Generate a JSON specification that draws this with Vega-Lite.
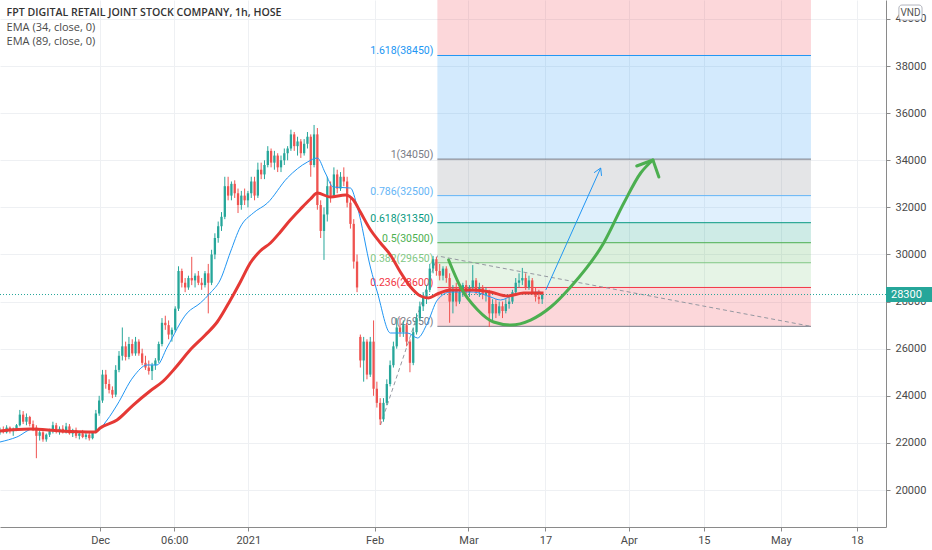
{
  "$schema": "https://vega.github.io/schema/vega-lite/v6.json",
  "width": 886,
  "height": 527,
  "autosize": {"type": "none"},
  "padding": {"left": 0, "top": 0, "right": 46, "bottom": 23},
  "background": "white",
  "config": {
    "view": {"stroke": null},
    "font": "Roboto",
    "text": {"font": "Roboto"}
  },
  "datasets": {
    "candles": [
      {"i":0,"o":22450,"h":22650,"l":22350,"c":22550},{"i":1,"o":22550,"h":22700,"l":22400,"c":22450},
      {"i":2,"o":22450,"h":22750,"l":22400,"c":22650},{"i":3,"o":22650,"h":22700,"l":22400,"c":22500},
      {"i":4,"o":22500,"h":22650,"l":22300,"c":22600},{"i":5,"o":22600,"h":22800,"l":22500,"c":22750},
      {"i":6,"o":22750,"h":23400,"l":22700,"c":23200},{"i":7,"o":23200,"h":23350,"l":22800,"c":22900},
      {"i":8,"o":22900,"h":23250,"l":22750,"c":23100},{"i":9,"o":23100,"h":23150,"l":22700,"c":22800},
      {"i":10,"o":22800,"h":22950,"l":22500,"c":22600},{"i":11,"o":22650,"h":22750,"l":21350,"c":22300},
      {"i":12,"o":22300,"h":22550,"l":22100,"c":22450},{"i":13,"o":22450,"h":22500,"l":22050,"c":22150},
      {"i":14,"o":22150,"h":22400,"l":22050,"c":22350},{"i":15,"o":22350,"h":22600,"l":22250,"c":22500},
      {"i":16,"o":22500,"h":22900,"l":22400,"c":22750},{"i":17,"o":22750,"h":22850,"l":22400,"c":22500},
      {"i":18,"o":22500,"h":22700,"l":22350,"c":22600},{"i":19,"o":22600,"h":22750,"l":22400,"c":22450},
      {"i":20,"o":22450,"h":22850,"l":22400,"c":22700},{"i":21,"o":22700,"h":22800,"l":22350,"c":22400},
      {"i":22,"o":22400,"h":22600,"l":22250,"c":22550},{"i":23,"o":22550,"h":22650,"l":22200,"c":22300},
      {"i":24,"o":22300,"h":22500,"l":22150,"c":22400},{"i":25,"o":22400,"h":22550,"l":22200,"c":22250},
      {"i":26,"o":22250,"h":22450,"l":22150,"c":22350},{"i":27,"o":22350,"h":22450,"l":22100,"c":22200},
      {"i":28,"o":22200,"h":22500,"l":22150,"c":22450},{"i":29,"o":22450,"h":23400,"l":22400,"c":23250},
      {"i":30,"o":23250,"h":24000,"l":23150,"c":23800},{"i":31,"o":23800,"h":25100,"l":23700,"c":24900},
      {"i":32,"o":24900,"h":25100,"l":24300,"c":24500},{"i":33,"o":24500,"h":24700,"l":24100,"c":24250},
      {"i":34,"o":24250,"h":24400,"l":23900,"c":24050},{"i":35,"o":24050,"h":25300,"l":23950,"c":25100},
      {"i":36,"o":25100,"h":25900,"l":25000,"c":25700},{"i":37,"o":25700,"h":26900,"l":25500,"c":26100},
      {"i":38,"o":26100,"h":26300,"l":25500,"c":25650},{"i":39,"o":25650,"h":26500,"l":25550,"c":26200},
      {"i":40,"o":26200,"h":26400,"l":25700,"c":25800},{"i":41,"o":25800,"h":26500,"l":25700,"c":26300},
      {"i":42,"o":26300,"h":26400,"l":25700,"c":25800},{"i":43,"o":25800,"h":26000,"l":25300,"c":25400},
      {"i":44,"o":25400,"h":25700,"l":25100,"c":25200},{"i":45,"o":25200,"h":25500,"l":24900,"c":25050},
      {"i":46,"o":25050,"h":25400,"l":24670,"c":25300},{"i":47,"o":25300,"h":25600,"l":25100,"c":25500},
      {"i":48,"o":25500,"h":26300,"l":25400,"c":26200},{"i":49,"o":26200,"h":27300,"l":26100,"c":27100},
      {"i":50,"o":27100,"h":27400,"l":26800,"c":27000},{"i":51,"o":27000,"h":27200,"l":26400,"c":26600},
      {"i":52,"o":26600,"h":26900,"l":26300,"c":26800},{"i":53,"o":26800,"h":27800,"l":26700,"c":27700},
      {"i":54,"o":27700,"h":29500,"l":27600,"c":29300},{"i":55,"o":29300,"h":29400,"l":28600,"c":28800},
      {"i":56,"o":28800,"h":29000,"l":28400,"c":28600},{"i":57,"o":28600,"h":29100,"l":28500,"c":29000},
      {"i":58,"o":29000,"h":29900,"l":28700,"c":28900},{"i":59,"o":28900,"h":29200,"l":28600,"c":29100},
      {"i":60,"o":29100,"h":29300,"l":28700,"c":28800},{"i":61,"o":28800,"h":29000,"l":28500,"c":28700},
      {"i":62,"o":28700,"h":29300,"l":28600,"c":29200},{"i":63,"o":29200,"h":29600,"l":27500,"c":28800},
      {"i":64,"o":28800,"h":30200,"l":28700,"c":30000},{"i":65,"o":30000,"h":30900,"l":29800,"c":30700},
      {"i":66,"o":30700,"h":31400,"l":30500,"c":31200},{"i":67,"o":31200,"h":31800,"l":31000,"c":31600},
      {"i":68,"o":31600,"h":33300,"l":31500,"c":32900},{"i":69,"o":32900,"h":33300,"l":32300,"c":32500},
      {"i":70,"o":32500,"h":33100,"l":32300,"c":33000},{"i":71,"o":33000,"h":33150,"l":32400,"c":32600},
      {"i":72,"o":32600,"h":32800,"l":31760,"c":32100},{"i":73,"o":32100,"h":32700,"l":31900,"c":32500},
      {"i":74,"o":32500,"h":32800,"l":32100,"c":32300},{"i":75,"o":32300,"h":32700,"l":32000,"c":32600},
      {"i":76,"o":32600,"h":33300,"l":32400,"c":33100},{"i":77,"o":33100,"h":33300,"l":32300,"c":32500},
      {"i":78,"o":32500,"h":33900,"l":32400,"c":33600},{"i":79,"o":33600,"h":33900,"l":33200,"c":33400},
      {"i":80,"o":33400,"h":34000,"l":33200,"c":33800},{"i":81,"o":33800,"h":34600,"l":33700,"c":34400},
      {"i":82,"o":34400,"h":34500,"l":33700,"c":33900},{"i":83,"o":33900,"h":34400,"l":33600,"c":34200},
      {"i":84,"o":34200,"h":34300,"l":33500,"c":33700},{"i":85,"o":33700,"h":34200,"l":33500,"c":34000},
      {"i":86,"o":34000,"h":34500,"l":33800,"c":34300},{"i":87,"o":34300,"h":34600,"l":34000,"c":34500},
      {"i":88,"o":34500,"h":35300,"l":34400,"c":35100},{"i":89,"o":35100,"h":35200,"l":34400,"c":34600},
      {"i":90,"o":34600,"h":35000,"l":34200,"c":34800},{"i":91,"o":34800,"h":34900,"l":34100,"c":34300},
      {"i":92,"o":34300,"h":34900,"l":34200,"c":34700},{"i":93,"o":34700,"h":35200,"l":34500,"c":35000},
      {"i":94,"o":35000,"h":35100,"l":33300,"c":33800},{"i":95,"o":33800,"h":35500,"l":33700,"c":35100},
      {"i":96,"o":35100,"h":35370,"l":31900,"c":32100},{"i":97,"o":32100,"h":32300,"l":30700,"c":31000},
      {"i":98,"o":31000,"h":32000,"l":29770,"c":31700},{"i":99,"o":31700,"h":33300,"l":31400,"c":32900},
      {"i":100,"o":32900,"h":33100,"l":32200,"c":32500},{"i":101,"o":32500,"h":33700,"l":32400,"c":33400},
      {"i":102,"o":33400,"h":33600,"l":32600,"c":32800},{"i":103,"o":32800,"h":33500,"l":32700,"c":33300},
      {"i":104,"o":33300,"h":33700,"l":32900,"c":33100},{"i":105,"o":33100,"h":33300,"l":32000,"c":32200},
      {"i":106,"o":32200,"h":32400,"l":31100,"c":31300},{"i":107,"o":31300,"h":31500,"l":29400,"c":29700},
      {"i":108,"o":29700,"h":30000,"l":28400,"c":28600},{"i":109,"o":26500,"h":26600,"l":25200,"c":25500},
      {"i":110,"o":25500,"h":26500,"l":24600,"c":26300},{"i":111,"o":26300,"h":26400,"l":24700,"c":24900},
      {"i":112,"o":24900,"h":26500,"l":24800,"c":26300},{"i":113,"o":26300,"h":27200,"l":24000,"c":24300},
      {"i":114,"o":24300,"h":24600,"l":23500,"c":23700},{"i":115,"o":23700,"h":23900,"l":22760,"c":23000},
      {"i":116,"o":23000,"h":23900,"l":22900,"c":23700},{"i":117,"o":23700,"h":24700,"l":23600,"c":24500},
      {"i":118,"o":24500,"h":25500,"l":24400,"c":25300},{"i":119,"o":25300,"h":26300,"l":25200,"c":26100},
      {"i":120,"o":26100,"h":27300,"l":26000,"c":26900},{"i":121,"o":26900,"h":27300,"l":26500,"c":26700},
      {"i":122,"o":26700,"h":27200,"l":26500,"c":27000},{"i":123,"o":27000,"h":27100,"l":26100,"c":26300},
      {"i":124,"o":26300,"h":26400,"l":25000,"c":25400},{"i":125,"o":25400,"h":26900,"l":25300,"c":26700},
      {"i":126,"o":26700,"h":27500,"l":26600,"c":27300},{"i":127,"o":27300,"h":28000,"l":27200,"c":27800},
      {"i":128,"o":27800,"h":28400,"l":27600,"c":28200},{"i":129,"o":28200,"h":28700,"l":27900,"c":28500},
      {"i":130,"o":28500,"h":29600,"l":28400,"c":29400},{"i":131,"o":29400,"h":29940,"l":29200,"c":29800},
      {"i":132,"o":29800,"h":29900,"l":29100,"c":29300},{"i":133,"o":29300,"h":29600,"l":28900,"c":29100},
      {"i":134,"o":29100,"h":29500,"l":28900,"c":29400},{"i":135,"o":29400,"h":29500,"l":28800,"c":29000},
      {"i":136,"o":29000,"h":29200,"l":27100,"c":28000},{"i":137,"o":28000,"h":28700,"l":27500,"c":28500},
      {"i":138,"o":28500,"h":28800,"l":27800,"c":28000},{"i":139,"o":28000,"h":28600,"l":27900,"c":28400},
      {"i":140,"o":28400,"h":28800,"l":28200,"c":28700},{"i":141,"o":28700,"h":28900,"l":28300,"c":28400},
      {"i":142,"o":28400,"h":28700,"l":28200,"c":28600},{"i":143,"o":28600,"h":29550,"l":28500,"c":28900},
      {"i":144,"o":28900,"h":29000,"l":28300,"c":28500},{"i":145,"o":28500,"h":28800,"l":28200,"c":28600},
      {"i":146,"o":28600,"h":28700,"l":28100,"c":28300},{"i":147,"o":28300,"h":28600,"l":28000,"c":28400},
      {"i":148,"o":28400,"h":28500,"l":26920,"c":27500},{"i":149,"o":27500,"h":28100,"l":27200,"c":27900},
      {"i":150,"o":27900,"h":28100,"l":27300,"c":27500},{"i":151,"o":27500,"h":28000,"l":27400,"c":27800},
      {"i":152,"o":27800,"h":28000,"l":27300,"c":27600},{"i":153,"o":27600,"h":28100,"l":27500,"c":27900},
      {"i":154,"o":27900,"h":28200,"l":27700,"c":28000},{"i":155,"o":28000,"h":28500,"l":27900,"c":28400},
      {"i":156,"o":28400,"h":29000,"l":28300,"c":28800},{"i":157,"o":28800,"h":29200,"l":28600,"c":28900},
      {"i":158,"o":28900,"h":29430,"l":28700,"c":29000},{"i":159,"o":29000,"h":29200,"l":28500,"c":28600},
      {"i":160,"o":28600,"h":29100,"l":28500,"c":28900},{"i":161,"o":28900,"h":29000,"l":28300,"c":28400},
      {"i":162,"o":28400,"h":28600,"l":28000,"c":28200},{"i":163,"o":28200,"h":28500,"l":27900,"c":28100},
      {"i":164,"o":28100,"h":28400,"l":27900,"c":28300}
    ],
    "ema89": [
      {"i":0,"p":22505},{"i":9.1,"p":22590},{"i":18.2,"p":22505},{"i":28.8,"p":22463},{"i":30.3,"p":22633},
      {"i":35.4,"p":22972},{"i":40.3,"p":23609},{"i":45.4,"p":24204},{"i":49.4,"p":24628},{"i":53,"p":25180},
      {"i":57.5,"p":25944},{"i":62.1,"p":26581},{"i":65.7,"p":27133},{"i":69.7,"p":28067},{"i":72.7,"p":28832},
      {"i":75.7,"p":29638},{"i":78.7,"p":30148},{"i":81.8,"p":30488},{"i":84.8,"p":30955},{"i":87.8,"p":31464},
      {"i":90.9,"p":31931},{"i":93.9,"p":32356},{"i":96,"p":32611},{"i":99.9,"p":32441},{"i":104.5,"p":32526},
      {"i":106.9,"p":32313},{"i":109,"p":31804},{"i":112.1,"p":31040},{"i":115.1,"p":30488},{"i":118.1,"p":29978},
      {"i":121.1,"p":29256},{"i":124.2,"p":28619},{"i":127.2,"p":28237},{"i":129.6,"p":28152},{"i":132.3,"p":28322},
      {"i":136.3,"p":28492},{"i":143.2,"p":28492},{"i":148.4,"p":28407},{"i":153.5,"p":28237},{"i":158.4,"p":28365},
      {"i":164.4,"p":28365}
    ],
    "ema34": [
      {"i":0,"p":22038},{"i":5.1,"p":22250},{"i":10,"p":22590},{"i":15.1,"p":22548},{"i":25.1,"p":22463},
      {"i":28.8,"p":22463},{"i":32.4,"p":22972},{"i":35.4,"p":23609},{"i":40.3,"p":24798},{"i":44.5,"p":25308},
      {"i":47.5,"p":25308},{"i":50.6,"p":26072},{"i":56.6,"p":27515},{"i":60.6,"p":27940},{"i":63.6,"p":28365},
      {"i":66.6,"p":28917},{"i":69.7,"p":30105},{"i":72.7,"p":31167},{"i":76.6,"p":31761},{"i":80.9,"p":32186},
      {"i":86.9,"p":33248},{"i":93,"p":33927},{"i":96,"p":34097},{"i":98.4,"p":33460},{"i":100.8,"p":32865},
      {"i":106,"p":32823},{"i":108.1,"p":32016},{"i":112.1,"p":29426},{"i":114.2,"p":28365},{"i":118.1,"p":26666},
      {"i":123.3,"p":26666},{"i":126.3,"p":26454},{"i":129.3,"p":27091},{"i":132.3,"p":28067},{"i":136.3,"p":28407},
      {"i":143.2,"p":28407},{"i":148.4,"p":28195},{"i":151.4,"p":28067},{"i":155.4,"p":28280},{"i":163.5,"p":28407}
    ],
    "bands": [
      {"b":"top","i":132.3,"i2":245.3,"p":38450,"p2":40806},{"b":"1.618","i":132.3,"i2":245.3,"p":34050,"p2":38450},
      {"b":"1","i":132.3,"i2":245.3,"p":32500,"p2":34050},{"b":"0.786","i":132.3,"i2":245.3,"p":31350,"p2":32500},
      {"b":"0.618","i":132.3,"i2":245.3,"p":30500,"p2":31350},{"b":"0.5","i":132.3,"i2":245.3,"p":29650,"p2":30500},
      {"b":"0.382","i":132.3,"i2":245.3,"p":28600,"p2":29650},{"b":"0.236","i":132.3,"i2":245.3,"p":26950,"p2":28600}
    ],
    "levels": [
      {"lv":"0","i":132.3,"i2":245.3,"p":26950,"txt":"0(26950)"},
      {"lv":"0.236","i":132.3,"i2":245.3,"p":28600,"txt":"0.236(28600)"},
      {"lv":"0.382","i":132.3,"i2":245.3,"p":29650,"txt":"0.382(29650)"},
      {"lv":"0.5","i":132.3,"i2":245.3,"p":30500,"txt":"0.5(30500)"},
      {"lv":"0.618","i":132.3,"i2":245.3,"p":31350,"txt":"0.618(31350)"},
      {"lv":"0.786","i":132.3,"i2":245.3,"p":32500,"txt":"0.786(32500)"},
      {"lv":"1","i":132.3,"i2":245.3,"p":34050,"txt":"1(34050)"},
      {"lv":"1.618","i":132.3,"i2":245.3,"p":38450,"txt":"1.618(38450)"}
    ],
    "trend": [{"i":115.1,"p":22760},{"i":132.3,"p":29940},{"i":245.3,"p":26950}],
    "curve": [
      {"i":135.7,"p":29766},{"i":139.3,"p":28620},{"i":144.5,"p":27643},{"i":149.3,"p":27133},{"i":154.5,"p":27006},
      {"i":160.5,"p":27218},{"i":166.6,"p":27770},{"i":172.6,"p":28620},{"i":182.6,"p":30488},{"i":188.7,"p":32186},
      {"i":193.8,"p":33460},{"i":197.5,"p":34012}
    ],
    "curveHead": [{"k":0,"i":192.6,"p":33757},{"k":1,"i":197.5,"p":34012},{"k":2,"i":199.3,"p":33290}],
    "arrow": [{"i":165.1,"p":28492},{"i":181.7,"p":33672}],
    "arrowHead": [{"k":0,"i":179.7,"p":33473},{"k":1,"i":181.7,"p":33672},{"k":2,"i":181.95,"p":33337}]
  },
  "encoding": {
    "x": {"field": "i", "type": "quantitative", "title": null,
      "scale": {"domain": [0, 268], "nice": false, "zero": false},
      "axis": {"orient": "bottom", "title": null,
        "values": [30.3, 52.7, 75.1, 113.3, 141.7, 165, 190.2, 212.9, 236.2, 259.2],
        "labelExpr": "datum.value < 40 ? 'Dec' : datum.value < 60 ? '06:00' : datum.value < 90 ? '2021' : datum.value < 120 ? 'Feb' : datum.value < 150 ? 'Mar' : datum.value < 175 ? '17' : datum.value < 200 ? 'Apr' : datum.value < 220 ? '15' : datum.value < 245 ? 'May' : '18'",
        "grid": true, "gridColor": "#eef0f3", "domainColor": "#8a8a8a", "tickColor": "#8a8a8a", "tickSize": 4,
        "labelColor": "#4a4a4a", "labelFontSize": 11, "labelPadding": 3, "labelFlush": false, "labelOverlap": false}},
    "y": {"field": "p", "type": "quantitative", "title": null,
      "scale": {"domain": [18429, 40806], "nice": false, "zero": false},
      "axis": {"orient": "right", "title": null,
        "values": [20000, 22000, 24000, 26000, 28000, 30000, 32000, 34000, 36000, 38000, 40000],
        "format": "d", "grid": true, "gridColor": "#eef0f3", "domainColor": "#8a8a8a", "tickColor": "#8a8a8a",
        "tickSize": 4, "labelColor": "#4a4a4a", "labelFontSize": 11, "labelPadding": 5}}
  },
  "layer": [
    {
      "data": {"name": "bands"},
      "mark": {"type": "rect", "fillOpacity": 0.2},
      "encoding": {
        "x2": {"field": "i2"},
        "y2": {"field": "p2"},
        "fill": {"field": "b", "type": "nominal", "legend": null,
          "scale": {"domain": ["top", "1.618", "1", "0.786", "0.618", "0.5", "0.382", "0.236"],
            "range": ["#f23645", "#2196f3", "#787b86", "#64b5f6", "#089981", "#4caf50", "#81c784", "#f23645"]}}
      }
    },
    {
      "data": {"name": "levels"},
      "mark": {"type": "rule", "strokeWidth": 1},
      "encoding": {
        "x2": {"field": "i2"},
        "color": {"field": "lv", "type": "nominal", "legend": null,
          "scale": {"domain": ["0", "0.236", "0.382", "0.5", "0.618", "0.786", "1", "1.618"],
            "range": ["#787b86", "#f23645", "#81c784", "#4caf50", "#089981", "#64b5f6", "#787b86", "#2196f3"]}}
      }
    },
    {
      "data": {"name": "levels"},
      "mark": {"type": "text", "align": "right", "baseline": "bottom", "dx": -4, "dy": 1, "fontSize": 10.5},
      "encoding": {
        "text": {"field": "txt"},
        "color": {"field": "lv", "type": "nominal", "legend": null,
          "scale": {"domain": ["0", "0.236", "0.382", "0.5", "0.618", "0.786", "1", "1.618"],
            "range": ["#787b86", "#f23645", "#81c784", "#4caf50", "#089981", "#64b5f6", "#787b86", "#2196f3"]}}
      }
    },
    {
      "data": {"name": "trend"},
      "mark": {"type": "line", "stroke": "#9598a1", "strokeWidth": 1, "strokeDash": [4, 3]}
    },
    {
      "data": {"values": [{"i": 0, "p": 28300}, {"i": 268, "p": 28300}]},
      "mark": {"type": "line", "stroke": "#26a69a", "strokeWidth": 1, "strokeDash": [1, 2]}
    },
    {
      "data": {"name": "candles"},
      "mark": {"type": "rule", "strokeWidth": 1},
      "encoding": {
        "y": {"field": "l", "type": "quantitative", "title": null,
          "scale": {"domain": [18429, 40806], "nice": false, "zero": false},
          "axis": {"orient": "right", "title": null,
            "values": [20000, 22000, 24000, 26000, 28000, 30000, 32000, 34000, 36000, 38000, 40000],
            "format": "d", "grid": true, "gridColor": "#eef0f3", "domainColor": "#8a8a8a", "tickColor": "#8a8a8a",
            "tickSize": 4, "labelColor": "#4a4a4a", "labelFontSize": 11, "labelPadding": 5}},
        "y2": {"field": "h"},
        "color": {"condition": {"test": "datum.c >= datum.o", "value": "#26a69a"}, "value": "#ef5350"}
      }
    },
    {
      "data": {"name": "candles"},
      "mark": {"type": "rule", "strokeWidth": 2.3, "strokeCap": "butt"},
      "encoding": {
        "y": {"field": "o", "type": "quantitative", "title": null,
          "scale": {"domain": [18429, 40806], "nice": false, "zero": false},
          "axis": {"orient": "right", "title": null,
            "values": [20000, 22000, 24000, 26000, 28000, 30000, 32000, 34000, 36000, 38000, 40000],
            "format": "d", "grid": true, "gridColor": "#eef0f3", "domainColor": "#8a8a8a", "tickColor": "#8a8a8a",
            "tickSize": 4, "labelColor": "#4a4a4a", "labelFontSize": 11, "labelPadding": 5}},
        "y2": {"field": "c"},
        "color": {"condition": {"test": "datum.c >= datum.o", "value": "#26a69a"}, "value": "#ef5350"}
      }
    },
    {
      "data": {"name": "ema34"},
      "mark": {"type": "line", "stroke": "#2196f3", "strokeWidth": 1, "interpolate": "monotone"}
    },
    {
      "data": {"name": "ema89"},
      "mark": {"type": "line", "stroke": "#e53935", "strokeWidth": 3, "interpolate": "monotone"}
    },
    {
      "data": {"name": "arrow"},
      "mark": {"type": "line", "stroke": "#2196f3", "strokeWidth": 1}
    },
    {
      "data": {"name": "arrowHead"},
      "mark": {"type": "line", "stroke": "#2196f3", "strokeWidth": 1},
      "encoding": {"order": {"field": "k"}}
    },
    {
      "data": {"name": "curve"},
      "mark": {"type": "line", "stroke": "#4caf50", "strokeWidth": 3, "interpolate": "monotone", "strokeCap": "round"}
    },
    {
      "data": {"name": "curveHead"},
      "mark": {"type": "line", "stroke": "#4caf50", "strokeWidth": 3, "strokeCap": "round", "strokeJoin": "round"},
      "encoding": {"order": {"field": "k"}}
    },
    {
      "data": {"values": [{"i": 268, "i2": 282.2, "p": 27980, "p2": 28620}]},
      "mark": {"type": "rect", "fill": "#26a69a"},
      "encoding": {"x2": {"field": "i2"}, "y2": {"field": "p2"}}
    },
    {
      "data": {"values": [{"i": 268, "p": 28300, "t": "28300"}]},
      "mark": {"type": "text", "align": "left", "baseline": "middle", "dx": 5, "fontSize": 11, "fill": "white"},
      "encoding": {"text": {"field": "t"}}
    },
    {
      "data": {"values": [{"i": 271.9, "i2": 278.9, "p": 39956, "p2": 40593}]},
      "mark": {"type": "rect", "fill": "white", "stroke": "#b2b5be", "strokeWidth": 1, "cornerRadius": 3},
      "encoding": {"x2": {"field": "i2"}, "y2": {"field": "p2"}}
    },
    {
      "data": {"values": [{"i": 275.4, "p": 40275, "t": "VND"}]},
      "mark": {"type": "text", "align": "center", "baseline": "middle", "fontSize": 10, "fill": "#555555"},
      "encoding": {"text": {"field": "t"}}
    },
    {
      "data": {"values": [{"i": 2, "p": 40253, "t": "FPT DIGITAL RETAIL JOINT STOCK COMPANY, 1h, HOSE"}]},
      "mark": {"type": "text", "align": "left", "baseline": "middle", "font": "Open Sans", "fontSize": 10.6, "fontWeight": 600, "fill": "#333333"},
      "encoding": {"text": {"field": "t"}}
    },
    {
      "data": {"values": [{"i": 2, "p": 39617, "t": "EMA (34, close, 0)"}, {"i": 2, "p": 39022, "t": "EMA (89, close, 0)"}]},
      "mark": {"type": "text", "align": "left", "baseline": "middle", "font": "Open Sans", "fontSize": 11, "fill": "#4a4a4a"},
      "encoding": {"text": {"field": "t"}}
    }
  ]
}
